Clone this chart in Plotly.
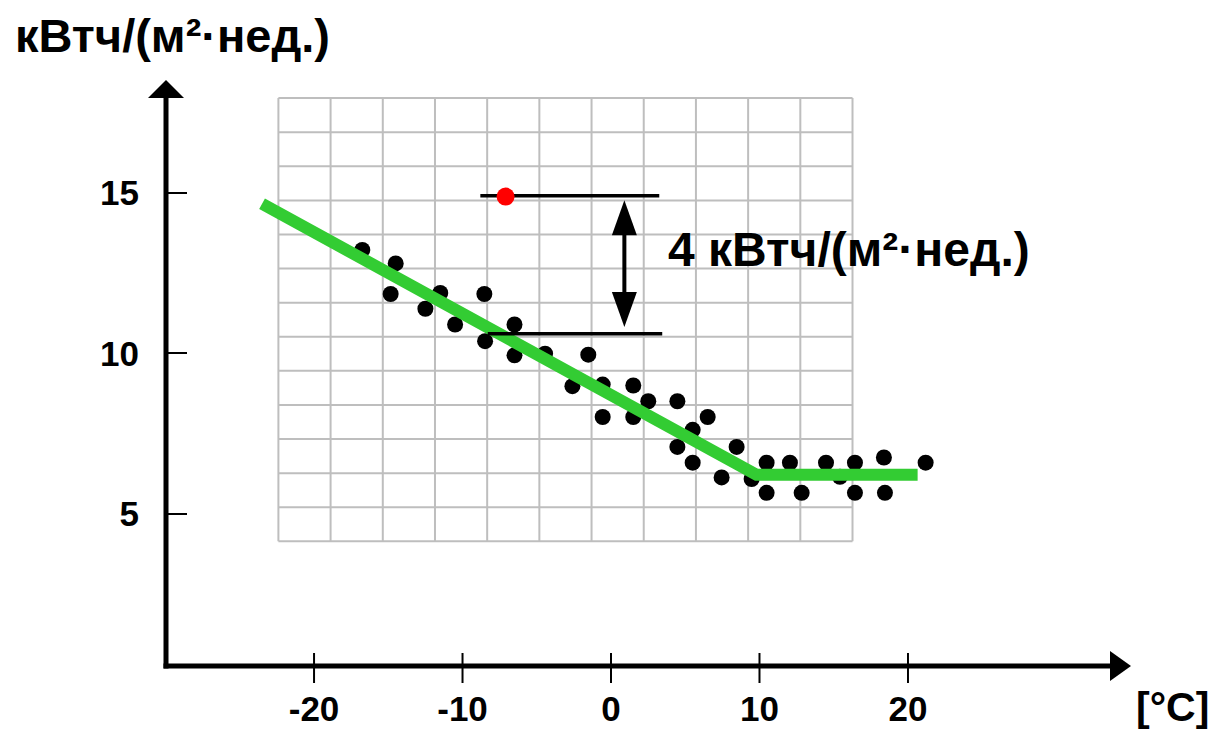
import plotly.graph_objects as go

# ---------------- data ----------------
pts_x = [-16.75, -14.5, -14.84, -12.5, -11.5, -8.53, -10.5, -6.5, -8.48, -6.5,
         -4.44, -2.6, -1.53, -0.56, -0.56, 1.5, 1.5, 2.51, 4.47, 6.51,
         5.5, 4.47, 5.5, 8.46, 7.45, 9.47, 10.48, 10.48, 12.05, 12.84,
         14.48, 15.42, 16.43, 16.43, 18.38, 18.45, 21.19]
pts_y = [13.22, 12.8, 11.85, 11.39, 11.88, 11.85, 10.9, 10.9, 10.38, 9.94,
         9.99, 8.98, 9.96, 9.03, 8.02, 9.0, 8.02, 8.51, 8.51, 8.02,
         7.62, 7.09, 6.6, 7.09, 6.14, 6.09, 6.6, 5.66, 6.6, 5.66,
         6.6, 6.16, 6.6, 5.66, 6.76, 5.66, 6.6]
outlier_x = [-7.1]
outlier_y = [14.88]
fit_x = [-23.5, 9.8, 20.65]
fit_y = [14.66, 6.22, 6.22]
ref_hi_x = [-8.8, 3.25]
ref_hi_y = [14.91, 14.91]
ref_lo_x = [-8.3, 3.45]
ref_lo_y = [10.61, 10.61]
arrow_x = 0.9
arrow_top = 14.77
arrow_bot = 10.82
x_ticks = [-20, -10, 0, 10, 20]
y_ticks = [5, 10, 15]
y_title = "кВтч/(м²·нед.)"
x_title = "[°C]"
delta_label = "4 кВтч/(м²·нед.)"

# decorative grid
grid_x0, grid_dx, grid_nx = -22.4, 3.515, 11
grid_y0, grid_dy, grid_ny = 4.15, 1.0613, 13

# ---------------- layout geometry ----------------
W, H = 1213, 729
L, R, T, B = 166, 1135, 80, 666
pw, ph = R - L, B - T
x_range = [-29.97, 35.29]
y_range = [0.27, 18.51]
ppx = pw / (x_range[1] - x_range[0])
ppy = ph / (y_range[1] - y_range[0])


def px_x(p):
    return (p - L) / pw


def px_y(p):
    return (B - p) / ph


FONT = "Liberation Sans, Arial, sans-serif"
GREEN = "rgb(51,204,51)"

fig = go.Figure()

fig.add_trace(go.Scatter(x=pts_x, y=pts_y, mode="markers",
                         marker=dict(color="black", size=16, line=dict(width=0)),
                         hoverinfo="skip"))
fig.add_trace(go.Scatter(x=fit_x, y=fit_y, mode="lines",
                         line=dict(color=GREEN, width=12), hoverinfo="skip"))
fig.add_trace(go.Scatter(x=ref_hi_x, y=ref_hi_y, mode="lines",
                         line=dict(color="black", width=3.5), hoverinfo="skip"))
fig.add_trace(go.Scatter(x=ref_lo_x, y=ref_lo_y, mode="lines",
                         line=dict(color="black", width=3.5), hoverinfo="skip"))
head_len = 35 / ppy
head_hw = 12.5 / ppx
fig.add_trace(go.Scatter(x=[arrow_x, arrow_x], y=[arrow_top - head_len * 0.5, arrow_bot + head_len * 0.5],
                         mode="lines", line=dict(color="black", width=4), hoverinfo="skip"))
fig.add_trace(go.Scatter(x=outlier_x, y=outlier_y, mode="markers",
                         marker=dict(color="#FF0000", size=18, line=dict(width=0)),
                         hoverinfo="skip"))

shapes = []
# grid
gx_end = grid_x0 + grid_dx * grid_nx
gy_end = grid_y0 + grid_dy * grid_ny
for i in range(grid_nx + 1):
    xv = grid_x0 + grid_dx * i
    shapes.append(dict(type="line", xref="x", yref="y", x0=xv, x1=xv, y0=grid_y0, y1=gy_end,
                       line=dict(color="#BEBEBE", width=2), layer="below"))
for j in range(grid_ny + 1):
    yv = grid_y0 + grid_dy * j
    shapes.append(dict(type="line", xref="x", yref="y", x0=grid_x0, x1=gx_end, y0=yv, y1=yv,
                       line=dict(color="#BEBEBE", width=2), layer="below"))

# arrow heads of the double arrow
shapes.append(dict(type="path", xref="x", yref="y", layer="above",
                   path=f"M {arrow_x} {arrow_top} L {arrow_x - head_hw} {arrow_top - head_len} "
                        f"L {arrow_x + head_hw} {arrow_top - head_len} Z",
                   fillcolor="black", line=dict(width=0)))
shapes.append(dict(type="path", xref="x", yref="y", layer="above",
                   path=f"M {arrow_x} {arrow_bot} L {arrow_x - head_hw} {arrow_bot + head_len} "
                        f"L {arrow_x + head_hw} {arrow_bot + head_len} Z",
                   fillcolor="black", line=dict(width=0)))

# axes lines with arrows
AX_W = 5
shapes.append(dict(type="line", xref="paper", yref="paper", x0=0, x1=0,
                   y0=px_y(B + AX_W / 2), y1=px_y(T + 14),
                   line=dict(color="black", width=AX_W), layer="above"))
shapes.append(dict(type="line", xref="paper", yref="paper", x0=px_x(L - AX_W / 2), x1=px_x(1114),
                   y0=0, y1=0, line=dict(color="black", width=AX_W), layer="above"))
shapes.append(dict(type="path", xref="paper", yref="paper", layer="above",
                   path=f"M {px_x(L)} {px_y(T)} L {px_x(L - 18)} {px_y(T + 18)} L {px_x(L + 18)} {px_y(T + 18)} Z",
                   fillcolor="black", line=dict(width=0)))
shapes.append(dict(type="path", xref="paper", yref="paper", layer="above",
                   path=f"M {px_x(1131)} {px_y(B)} L {px_x(1110)} {px_y(B - 15)} L {px_x(1110)} {px_y(B + 15)} Z",
                   fillcolor="black", line=dict(width=0)))
# x tick marks crossing the axis
for v in x_ticks:
    shapes.append(dict(type="line", xref="x", yref="paper", x0=v, x1=v,
                       y0=px_y(B + 17), y1=px_y(B - 13),
                       line=dict(color="black", width=2), layer="above"))

annotations = [
    dict(text=y_title, xref="paper", yref="paper", x=px_x(13), y=px_y(35),
         xanchor="left", yanchor="middle", showarrow=False,
         font=dict(family=FONT, size=47, color="black", weight="bold")),
    dict(text=x_title, xref="paper", yref="paper", x=px_x(1211), y=px_y(707),
         xanchor="right", yanchor="middle", showarrow=False,
         font=dict(family=FONT, size=41, color="black", weight="bold")),
    dict(text=delta_label, xref="x", yref="y", x=3.7, y=13.22,
         xanchor="left", yanchor="middle", showarrow=False,
         font=dict(family=FONT, size=48, color="black", weight="bold")),
]

fig.update_layout(
    width=W, height=H, autosize=False,
    margin=dict(l=L, r=W - R, t=T, b=H - B, pad=0, autoexpand=False),
    paper_bgcolor="white", plot_bgcolor="white",
    showlegend=False, hovermode=False,
    shapes=shapes, annotations=annotations,
    xaxis=dict(range=x_range, showgrid=False, zeroline=False, showline=False, automargin=False,
               tickmode="array", tickvals=x_ticks, ticktext=[str(v) for v in x_ticks],
               ticks="", ticklabelstandoff=19,
               tickfont=dict(family=FONT, size=35, color="black", weight="bold")),
    yaxis=dict(range=y_range, showgrid=False, zeroline=False, showline=False, automargin=False,
               tickmode="array", tickvals=y_ticks, ticktext=[str(v) for v in y_ticks],
               ticks="inside", ticklen=21, tickwidth=2, tickcolor="black",
               ticklabelstandoff=26,
               tickfont=dict(family=FONT, size=35, color="black", weight="bold")),
)

fig.write_html("out.html", config={"displayModeBar": False})
